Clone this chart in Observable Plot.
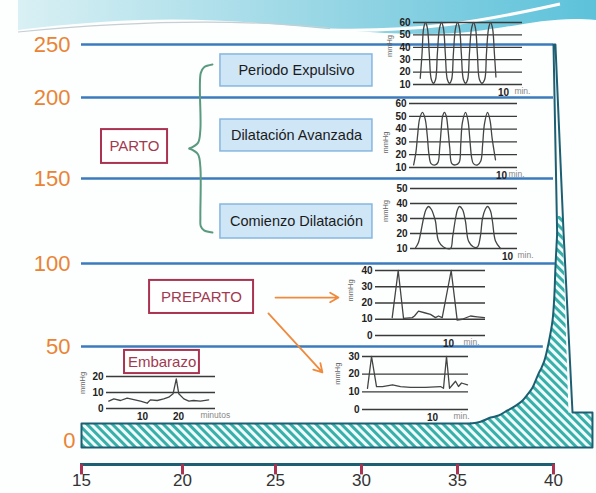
<!DOCTYPE html>
<html><head><meta charset="utf-8">
<script src="https://cdn.jsdelivr.net/npm/d3@7"></script>
<script src="https://cdn.jsdelivr.net/npm/@observablehq/plot@0.6"></script>
<style>
html,body{margin:0;padding:0;background:#fff;}
#wrap{position:relative;width:596px;height:493px;overflow:hidden;background:#fdfefe;font-family:"Liberation Sans",Arial,sans-serif;}
#wrap svg{position:absolute;left:0;top:0;}
</style></head><body><div id="wrap"></div>
<script>
// ---------- main chart data ----------
const weekTicks = [15, 20, 25, 30, 35, 40];
const activityTicks = [0, 50, 100, 150, 200, 250];
const levelValues = [50, 100, 150, 200, 250];
const levelEndWeek = [39.47, 40.1, 40.0, 40.0, 40.0];
// rising uterine-activity curve (weeks, activity units)
const curveWeek  = [35.68, 36.2, 36.72, 37.14, 37.6, 38.02, 38.39, 38.65, 38.91, 39.22, 39.38, 39.53, 39.74, 39.95, 40.05, 40.1, 40.19];
const curveValue = [9, 10, 12.2, 13.3, 16, 18.4, 21.3, 24.5, 28.2, 35.6, 38.8, 42.6, 51.8, 65.7, 81.9, 97.6, 117.6];
// basal band + labour column outline
const outlineWeek  = [35.68, 15, 15, 42.03, 42.03, 40.99, 40.52, 40.1, 40.0, 40.19];
const outlineValue = [9, 9, -3.7, -3.7, 14.9, 14.9, 119, 250, 250, 117.6];
// right edge of the hatched region
const hatchEdgeWeek  = [40.22, 40.45, 40.78, 42.03, 42.03, 15, 15];
const hatchEdgeValue = [128, 128, 14.9, 14.9, -3.7, -3.7, 9];
const phaseLabels = ["Periodo Expulsivo", "Dilatación Avanzada", "Comienzo Dilatación"];
const stageLabels = ["PARTO", "PREPARTO", "Embarazo"];

// ---------- inset traces (minutes, mmHg) ----------
const expulsivoGrid = [10, 20, 30, 40, 50, 60];
const expulsivoMin  = [0.75,0.95,1.12,1.33,1.55,1.75,1.98,2.22,2.45,2.65,2.88,3.11,3.33,3.53,3.76,4.0,4.23,4.43,4.66,4.89,5.11,5.31,5.54,5.78,6.01,6.21,6.44,6.67,6.89,7.09,7.32,7.6,7.9,8.1,8.33,8.56,8.78,8.98,9.15];
const expulsivoMmHg = [15,35,55,60,55,35,14,11,14,35,55,60,55,35,14,11,14,35,55,60,55,35,14,11,14,35,55,60,55,35,14,11,14,35,55,60,55,35,16];

const avanzadaGrid = [10, 20, 30, 40, 50, 60];
const avanzadaMin  = [0.45,0.7,0.88,1.1,1.41,1.7,1.93,2.12,2.35,2.8,3.1,3.28,3.45,3.6,3.8,4.0,4.18,4.38,4.6,5.0,5.4,5.57,5.75,6.09,6.35,6.55,6.75,6.95,7.4,7.75,7.95,8.15,8.48,8.75,8.98,9.35];
const avanzadaMmHg = [12,22,35,48,53,48,35,20,13,12,14,25,40,50,53,50,40,25,13,12,14,28,45,53,47,33,18,13,12,15,28,44,53,47,33,16];

const comienzoGrid = [10, 20, 30, 40, 50];
const comienzoMin  = [0.52,0.82,1.1,1.34,1.6,1.86,2.16,2.4,2.58,2.89,3.4,4.12,4.35,4.64,4.85,5.05,5.36,5.67,5.98,6.5,6.9,7.2,7.42,7.7,7.94,8.25,8.45,8.76,9.28];
const comienzoMmHg = [10.5,14,22,30,36,38,36,32,28,15,11,10,18,30,36,38,36,28,15,11,11,18,30,36,38,35,28,15,10];

const preparto1Grid = [0, 10, 20, 30, 40];
const preparto1Min  = [2.29,3.11,3.84,5.03,5.34,5.89,6.71,7.53,8.22,8.63,9.14,10.37,11.19,11.88,13.01,13.93,14.93];
const preparto1MmHg = [11,40,10.5,11,12,15,14,13,11,12,11,40,9.5,10,12,11.5,11];

const preparto2Grid = [0, 10, 20, 30];
const preparto2Min  = [0.71,1.29,2.0,2.86,4.29,5.43,6.86,9.0,11.14,11.57,12.0,12.43,12.86,13.29,13.71,14.14,15.0];
const preparto2MmHg = [12,30,13,13,14,13,12.5,12.5,13,12,30,12,14,16,13,15,14];

const embarazoGrid = [0, 10, 20];
const embarazoMin  = [0.64,2.04,3.9,5.74,7.59,9.44,11.3,12.2,14.1,15.9,17.3,18.5,19.4,20.1,21.5,22.9,24.2,26.1,28.4];
const embarazoMmHg = [4.6,6.0,5.0,6.5,5.6,4.6,3.3,5.4,5.0,6.0,7.1,9.2,18.5,9.2,6.0,4.6,5.0,4.6,5.4];

// ---------- styles ----------
const FONT = "Liberation Sans, Arial, sans-serif";
const orange = "#ea8434", blue = "#3a7bbd", teal = "#1d5f72", crimson = "#a93350";
const wrap = document.getElementById("wrap");

// decorative slide header swoosh
const deco = d3.select(wrap).append("svg").attr("width", 596).attr("height", 493);
const g = deco.append("defs").append("linearGradient").attr("id", "sw").attr("x1", 0).attr("x2", 1);
g.append("stop").attr("offset", 0).attr("stop-color", "#d9f0f4");
g.append("stop").attr("offset", 0.6).attr("stop-color", "#8fd3e3");
g.append("stop").attr("offset", 1).attr("stop-color", "#5cc2da");
deco.append("path").attr("d", "M18,0H596V20C540,14 500,34 430,34C330,34 250,16 140,20C90,22 50,26 18,30Z").attr("fill", "url(#sw)");
deco.append("path").attr("d", "M330,30C420,32 480,22 560,4").attr("fill", "none").attr("stroke", "#fff").attr("stroke-width", 3);
deco.append("path").attr("d", "M18,32C120,22 230,18 330,28").attr("fill", "none").attr("stroke", "#c7cfd2").attr("stroke-width", 1.2);

// ---------- main chart ----------
const toPts = (xs, ys) => xs.map((w, i) => ({w, v: ys[i]}));
const curve = toPts(curveWeek, curveValue);
const outline = toPts(outlineWeek, outlineValue);
const hatch = curve.concat(toPts(hatchEdgeWeek, hatchEdgeValue));
const levels = levelValues.map((v, i) => ({v, end: levelEndWeek[i]}));
const phaseBoxY = [[240.6, 210.4], [186.4, 166.7], [134.7, 114.7]];
const braceUpper = [[21.61,231.1],[21.16,228.5],[20.98,223],[20.96,180],[20.83,172],[20.37,168.5]];
const braceLower = [[20.37,168.5],[20.83,165],[20.96,157],[20.96,127],[20.98,122],[21.16,119.5],[21.61,118.2]];
// the slide's hand-drawn axes are unevenly spaced: piecewise position scales
const weekSpacing = d3.scaleLinear().domain(weekTicks).range([0, 101, 194, 280, 376, 472]);
const levelSpacing = d3.scaleLinear().domain(activityTicks).range([0, 94, 177, 262, 343, 396]);

const main = Plot.plot({
  width: 596, height: 493,
  marginLeft: 81, marginRight: 43, marginTop: 44, marginBottom: 29,
  style: {background: "transparent", fontFamily: FONT, overflow: "visible"},
  x: {axis: null, transform: weekSpacing, domain: [0, 472], range: [81, 553]},
  y: {axis: null, transform: levelSpacing, domain: [0, 396], range: [440, 44]},
  marks: [
    Plot.line(hatch, {x: "w", y: "v", fill: "url(#hatch)", stroke: "none"}),
    Plot.ruleY(levels, {y: "v", x1: 15, x2: "end", stroke: blue, strokeWidth: 2.5}),
    Plot.line(outline, {x: "w", y: "v", stroke: teal, strokeWidth: 2}),
    Plot.line(curve, {x: "w", y: "v", curve: "catmull-rom", stroke: teal, strokeWidth: 2}),
    Plot.frame({anchor: "bottom", stroke: teal, strokeWidth: 3}),
    Plot.ruleX(weekTicks, {x: d => d, y1: -12.8, y2: -18.3, stroke: crimson, strokeWidth: 3}),
    Plot.text(weekTicks, {x: d => d, frameAnchor: "bottom", dy: 21, text: d => String(d), fontSize: 17, fill: "#333"}),
    Plot.text(activityTicks.filter(d => d > 0), {x: 15, y: d => d, text: d => String(d), textAnchor: "end", dx: -11, fontSize: 22, fill: orange}),
    Plot.text(activityTicks.filter(d => d === 0), {x: 15, y: d => d, text: d => String(d), textAnchor: "end", dx: -6, fontSize: 22, fill: orange}),
    // phase boxes
    Plot.rect(phaseLabels, {x1: 22.04, x2: 30.57, y1: (d, i) => phaseBoxY[i][0], y2: (d, i) => phaseBoxY[i][1], fill: "#cfe6f7", stroke: "#86b6df", strokeWidth: 1.5}),
    Plot.text(phaseLabels, {x: 26.22, y: (d, i) => (phaseBoxY[i][0] + phaseBoxY[i][1]) / 2, text: d => d, fontSize: 14.5, fill: "#1b1b1b"}),
    // brace
    Plot.line(braceUpper, {x: d => d[0], y: d => d[1], curve: "catmull-rom", stroke: "#5a9b80", strokeWidth: 2}),
    Plot.line(braceLower, {x: d => d[0], y: d => d[1], curve: "catmull-rom", stroke: "#5a9b80", strokeWidth: 2}),
    // stage boxes
    Plot.rect([stageLabels[0]], {x1: 15.99, x2: 19.26, y1: 180.2, y2: 159.3, fill: "#fff", stroke: crimson, strokeWidth: 2}),
    Plot.rect([stageLabels[1]], {x1: 18.37, x2: 23.82, y1: 89.8, y2: 69.9, fill: "#fff", stroke: crimson, strokeWidth: 2}),
    Plot.rect([stageLabels[2]], {x1: 17.13, x2: 20.91, y1: 47.9, y2: 35.6, fill: "#fff", stroke: crimson, strokeWidth: 2}),
    Plot.text([stageLabels[0]], {x: 17.62, y: 169.8, text: d => d, fontSize: 15, fill: "#a13a50"}),
    Plot.text([stageLabels[1]], {x: 21.02, y: 79.8, text: d => d, fontSize: 15, fill: "#a13a50"}),
    Plot.text([stageLabels[2]], {x: 18.99, y: 41.8, text: d => d, fontSize: 15, fill: "#a13a50"}),
    // arrows
    Plot.arrow([0], {x1: 25.0, y1: 79.5, x2: 28.66, y2: 79.5, stroke: "#f08a3c", strokeWidth: 1.8, headLength: 8}),
    Plot.arrow([0], {x1: 24.62, y1: 69.9, x2: 27.73, y2: 36.2, stroke: "#f08a3c", strokeWidth: 1.8, headLength: 8})
  ]
});
const defs = d3.select(main).insert("defs", ":first-child");
const pat = defs.append("pattern").attr("id", "hatch").attr("patternUnits", "userSpaceOnUse")
  .attr("width", 6).attr("height", 6).attr("patternTransform", "rotate(-45)");
pat.append("rect").attr("width", 6).attr("height", 6).attr("fill", "#f2fbfb");
pat.append("rect").attr("width", 3).attr("height", 6).attr("fill", "#38b0aa");
wrap.appendChild(main);

// ---------- insets ----------
function inset(min, mmHg, grid, o) {
  const ymin = grid[0], ymax = grid[grid.length - 1];
  const trace = min.map((m, i) => ({m, p: mmHg[i]}));
  const svg = Plot.plot({
    width: 596, height: 493, margin: 0,
    style: {background: "transparent", fontFamily: FONT, overflow: "visible"},
    x: {axis: null, domain: [0, o.xmax], range: o.xr},
    y: {axis: null, domain: [ymin, ymax], range: o.yr},
    marks: [
      Plot.ruleY(grid, {x1: 0, x2: o.xmax, stroke: "#3a3a3a", strokeWidth: 1.3}),
      Plot.text(grid, {x: 0, y: d => d, text: d => String(d), textAnchor: "end", dx: -3, fontSize: 10, fontWeight: "bold", fill: "#222"}),
      Plot.line(trace, {x: "m", y: "p", curve: o.curve, stroke: "#444", strokeWidth: 1.3}),
      Plot.text(o.xLabels, {x: d => d, y: ymin, dy: 8, text: d => String(d), fontSize: 10, fontWeight: "bold", fill: "#222"}),
      Plot.text([o.unit], {x: o.unitAt, y: ymin, dy: 7, text: d => d, textAnchor: "start", fontSize: 8.5, fill: "#888"}),
      Plot.text(["mmHg"], {x: 0, y: o.mmHgAt, dx: o.mmHgDx, text: d => d, rotate: -90, fontSize: 7.5, fill: "#666"})
    ]
  });
  wrap.appendChild(svg);
}
inset(expulsivoMin, expulsivoMmHg, expulsivoGrid, {xmax: 12.1, xr: [413, 522], yr: [84, 22], curve: "catmull-rom", xLabels: [10], unit: "min.", unitAt: 11.2, mmHgAt: 41, mmHgDx: -24});
inset(avanzadaMin, avanzadaMmHg, avanzadaGrid, {xmax: 11.74, xr: [409, 517], yr: [167, 103], curve: "catmull-rom", xLabels: [10], unit: "min.", unitAt: 10.76, mmHgAt: 29.5, mmHgDx: -24});
inset(comienzoMin, comienzoMmHg, comienzoGrid, {xmax: 11.03, xr: [410, 517], yr: [248, 188], curve: "catmull-rom", xLabels: [10], unit: "min.", unitAt: 11.03, mmHgAt: 35, mmHgDx: -25});
inset(preparto1Min, preparto1MmHg, preparto1Grid, {xmax: 15.07, xr: [375, 485], yr: [335, 270], curve: "linear", xLabels: [10], unit: "min.", unitAt: 12.05, mmHgAt: 27.7, mmHgDx: -25});
inset(preparto2Min, preparto2MmHg, preparto2Grid, {xmax: 15.14, xr: [362, 468], yr: [409, 356], curve: "linear", xLabels: [10], unit: "min.", unitAt: 13, mmHgAt: 20.3, mmHgDx: -25});
inset(embarazoMin, embarazoMmHg, embarazoGrid, {xmax: 30.3, xr: [106, 215], yr: [408, 376], curve: "linear", xLabels: [10, 20], unit: "minutos", unitAt: 26.1, mmHgAt: 16, mmHgDx: -24});
</script></body></html>
